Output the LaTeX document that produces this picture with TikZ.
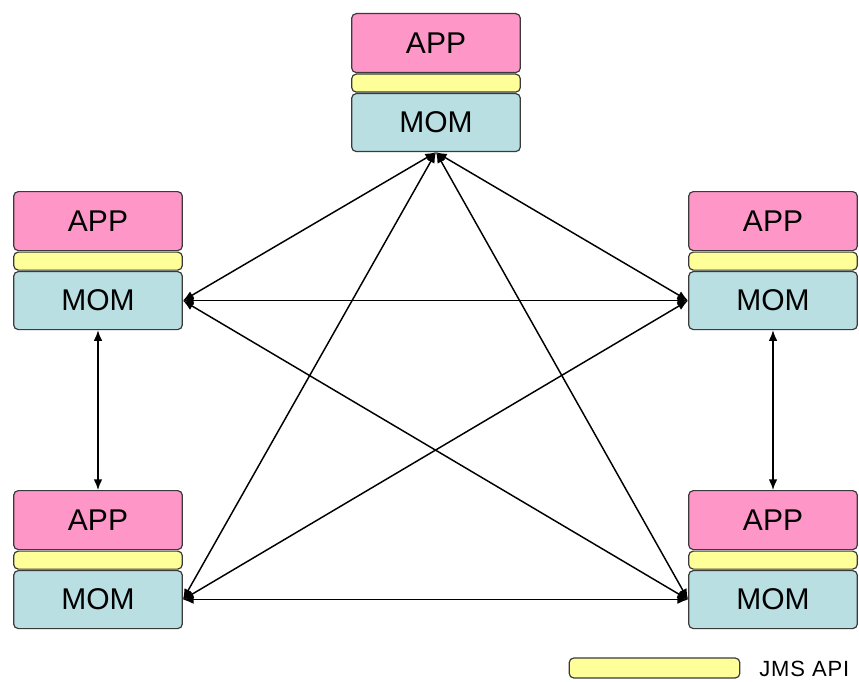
\documentclass[tikz,border=0pt]{standalone}
\usepackage{fontspec}
\setmainfont{Liberation Sans}
\usetikzlibrary{arrows.meta}
\definecolor{apppink}{HTML}{FF96C8}
\definecolor{apiyellow}{HTML}{FFFF99}
\definecolor{momblue}{HTML}{B9DFE3}
\definecolor{edgegray}{HTML}{3A3A3A}
\tikzset{
  layer/.style={draw=edgegray, line width=0.9pt, rounded corners=3.5pt,
    inner sep=0pt, minimum width=126.5pt, font=\fontsize{22.5}{24}\selectfont},
  applayer/.style={layer, fill=apppink, minimum height=44.25pt},
  apilayer/.style={layer, fill=apiyellow, minimum height=13.5pt},
  momlayer/.style={layer, fill=momblue, minimum height=43.5pt},
  link/.style={line width=1.1pt, {Latex[length=8pt,width=6.5pt]}-{Latex[length=8pt,width=6.5pt]}},
}
% one APP / JMS API / MOM stack: #1 = name prefix, #2 = x centre, #3 = top y
\newcommand{\momstack}[3]{%
  \node[applayer, anchor=north] (#1A) at (#2,#3) {APP};
  \node[apilayer, anchor=north] (#1J) at (#2,#3+60.5) {};
  \node[momlayer, anchor=north] (#1M) at (#2,#3+80) {MOM};
}
\begin{document}
\begin{tikzpicture}[x=0.75pt, y=-0.75pt]
  \useasboundingbox (0,0) rectangle (859,681);

  \momstack{t}{436}{13}
  \momstack{l}{98}{191}
  \momstack{r}{773}{191}
  \momstack{bl}{98}{490}
  \momstack{br}{773}{490}

  % connections between the MOM layers
  \draw[link] (tM.south) -- (lM.east);
  \draw[link] (tM.south) -- (rM.west);
  \draw[link] (tM.south) -- (blM.east);
  \draw[link] (tM.south) -- (brM.west);
  \draw[link] (lM.east) -- (rM.west);
  \draw[link] (lM.east) -- (brM.west);
  \draw[link] (rM.west) -- (blM.east);
  \draw[link] (blM.east) -- (brM.west);
  \draw[link] (lM.south) -- (blA.north);
  \draw[link] (rM.south) -- (brA.north);

  % legend
  \node[layer, fill=apiyellow, minimum width=128pt, minimum height=15pt]
    (key) at (654.5,668) {};
  \node[anchor=west, inner sep=0pt, font=\fontsize{16.5}{18}\selectfont\addfontfeature{LetterSpace=4}]
    (keytext) at (759,669) {JMS API};
\end{tikzpicture}
\end{document}
